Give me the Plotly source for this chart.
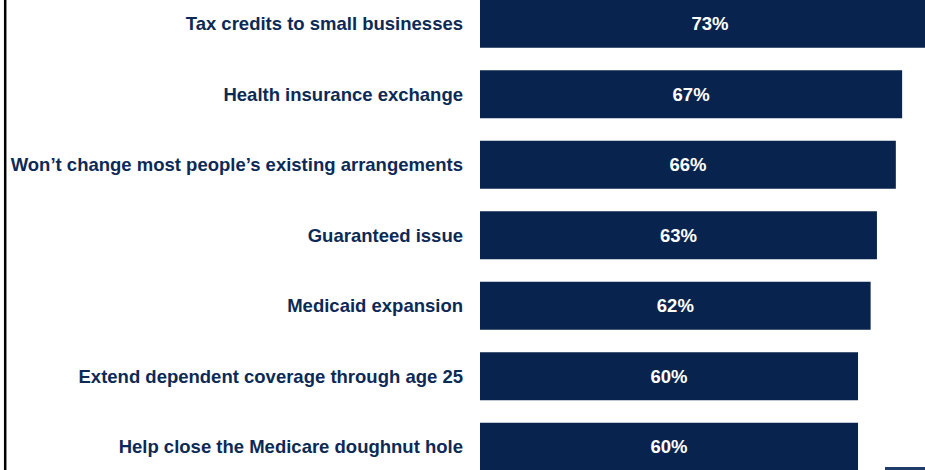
import plotly.graph_objects as go

categories = [
    "Tax credits to small businesses",
    "Health insurance exchange",
    "Won\u2019t change most people\u2019s existing arrangements",
    "Guaranteed issue",
    "Medicaid expansion",
    "Extend dependent coverage through age 25",
    "Help close the Medicare doughnut hole",
]
values = [73, 67, 66, 63, 62, 60, 60]
value_labels = ["73%", "67%", "66%", "63%", "62%", "60%", "60%"]

NAVY = "#08234d"
TEXT = "#0c2a55"

fig = go.Figure(
    go.Bar(
        x=values,
        y=categories,
        orientation="h",
        marker=dict(color=NAVY, line=dict(width=0)),
        width=0.68,
        text=value_labels,
        textposition="inside",
        insidetextanchor="middle",
        textfont=dict(family="Liberation Sans, Arial, sans-serif", size=18.5, color="white", weight="bold"),
        hoverinfo="skip",
    )
)

fig.update_layout(
    width=925,
    height=470,
    margin=dict(l=480, r=0, t=0, b=0),
    paper_bgcolor="white",
    plot_bgcolor="white",
    showlegend=False,
    font=dict(family="Liberation Sans, Arial, sans-serif"),
    xaxis=dict(
        range=[0, 70.63],
        visible=False,
        showgrid=False,
        zeroline=False,
        fixedrange=True,
    ),
    yaxis=dict(
        type="category",
        categoryorder="array",
        categoryarray=categories,
        range=[6.329, -0.338],
        showgrid=False,
        zeroline=False,
        showline=False,
        ticks="",
        ticklabelstandoff=16,
        tickfont=dict(family="Liberation Sans, Arial, sans-serif", size=18.5, color=TEXT, weight="bold"),
        fixedrange=True,
    ),
    shapes=[
        dict(type="line", xref="paper", yref="paper",
             x0=(5.2 - 480) / 445, x1=(5.2 - 480) / 445, y0=-0.05, y1=1.05,
             line=dict(color="black", width=2.5)),
        dict(type="rect", xref="paper", yref="paper",
             x0=(885 - 480) / 445, x1=1.0, y0=-0.01, y1=3 / 470,
             fillcolor="#1f3c6b", line=dict(width=0)),
    ],
)

fig.write_html(
    "out.html",
    config={"displayModeBar": False},
    post_script="document.body.style.margin='0';document.body.style.overflow='hidden';",
)
